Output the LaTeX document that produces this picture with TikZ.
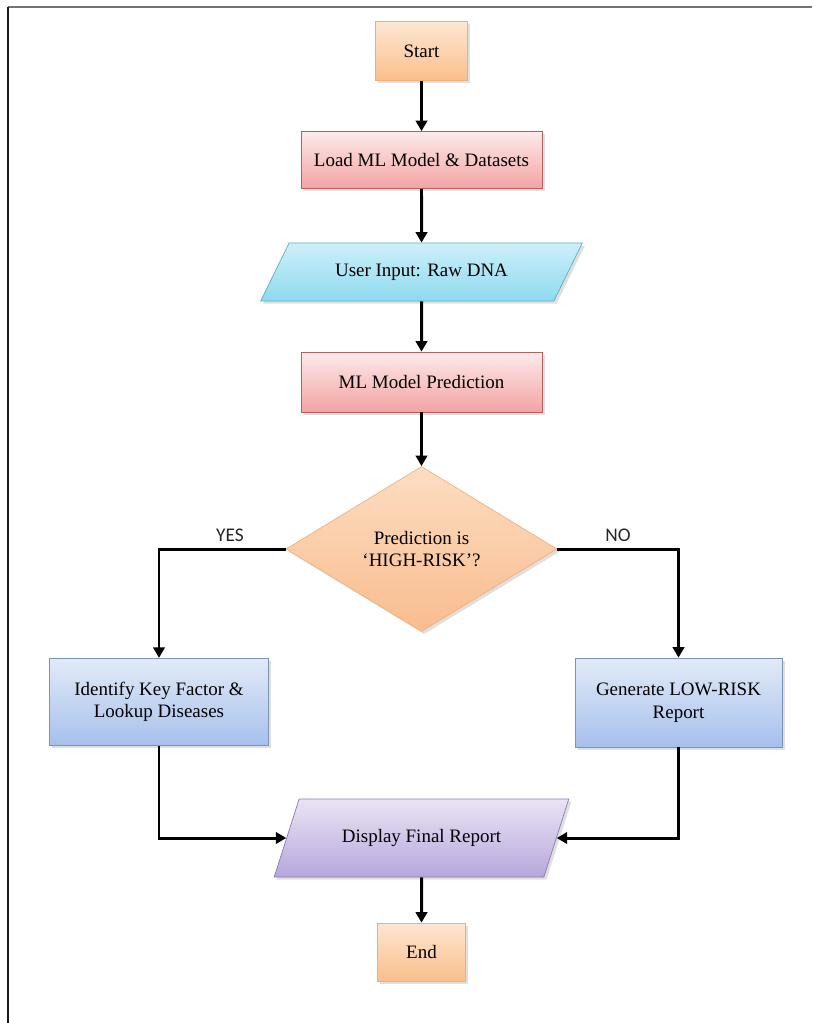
\documentclass[tikz,border=0pt]{standalone}
\usepackage{fontspec}
\setmainfont{Liberation Serif}
\newfontfamily\labelfont{Carlito}
\usetikzlibrary{shapes.geometric,arrows.meta,shadows}

\definecolor{startTop}{HTML}{FDE6D2}
\definecolor{startBot}{HTML}{FABF8C}
\definecolor{startLine}{HTML}{F2AE78}
\definecolor{procTop}{HTML}{FDEAEA}
\definecolor{procBot}{HTML}{F3A3A3}
\definecolor{procLine}{HTML}{B4605C}
\definecolor{inTop}{HTML}{CDF0FA}
\definecolor{inBot}{HTML}{8FD9EF}
\definecolor{inLine}{HTML}{5AAFC8}
\definecolor{decTop}{HTML}{FCDDC2}
\definecolor{decBot}{HTML}{F9BC8E}
\definecolor{decLine}{HTML}{F2B07E}
\definecolor{actTop}{HTML}{E2EAF7}
\definecolor{actBot}{HTML}{A6C0EC}
\definecolor{actLine}{HTML}{7A93B5}
\definecolor{outTop}{HTML}{EAE4F4}
\definecolor{outBot}{HTML}{B7A6DB}
\definecolor{outLine}{HTML}{8D78B4}

\begin{document}
\begin{tikzpicture}[
    font=\fontsize{10.8}{12.8}\selectfont,
    shade/.style  = {drop shadow={opacity=0.25, shadow xshift=1.5pt, shadow yshift=-1.5pt}},
    term/.style   = {draw=startLine, shade, top color=startTop, bottom color=startBot,
                     minimum width=1.85cm, minimum height=1.17cm},
    proc/.style   = {draw=procLine, shade, top color=procTop, bottom color=procBot,
                     minimum width=4.82cm, minimum height=1.14cm},
    action/.style = {draw=actLine, shade, top color=actTop, bottom color=actBot,
                     align=center, minimum height=1.75cm},
    io/.style     = {trapezium, trapezium stretches=true, shade, minimum height=1.16cm},
    decide/.style = {diamond, draw=decLine, shade, top color=decTop, bottom color=decBot,
                     align=center, minimum width=5.42cm, minimum height=3.3cm, inner sep=0pt},
    flow/.style   = {line width=1.7pt, -{Triangle[length=6pt,width=6.5pt]}},
    yesno/.style  = {font=\labelfont\fontsize{11}{12}\selectfont, text=black!85, above},
  ]
    % page frame
    \useasboundingbox (0,0) rectangle (16.24,-20.46);
    \draw[black!55, line width=1pt] (0.16,-0.14) -- (16.24,-0.14);
    \draw[black!90, line width=1pt] (0.16,-0.14) -- (0.16,-20.46);

    \node[term]   (start)   at (8.43,-1.02)  {Start};
    \node[proc]   (load)    at (8.43,-3.20)  {Load ML Model \& Datasets};
    \node[io, draw=inLine, top color=inTop, bottom color=inBot,
          trapezium left angle=55, trapezium right angle=125,
          minimum width=6.44cm]
                  (input)   at (8.43,-5.44)  {User Input: Raw DNA};
    \node[proc, minimum height=1.2cm]
                  (predict) at (8.43,-7.64)  {ML Model Prediction};
    \node[decide] (check)   at (8.43,-10.98) {Prediction is\\`HIGH-RISK'?};
    \node[action, minimum width=4.38cm]
                  (lookup)  at (3.18,-14.04) {Identify Key Factor \&\\Lookup Diseases};
    \node[action, minimum width=4.14cm, minimum height=1.78cm]
                  (lowrisk) at (13.57,-14.05) {Generate LOW-RISK\\Report};
    \node[io, draw=outLine, top color=outTop, bottom color=outBot,
          trapezium left angle=59, trapezium right angle=121,
          minimum width=5.9cm, minimum height=1.56cm]
                  (report)  at (8.43,-16.76) {Display Final Report};
    \node[term, minimum width=1.76cm, minimum height=1.16cm]
                  (finish)  at (8.43,-19.04) {End};

    \draw[flow] (start.south)   -- (load.north);
    \draw[flow] (load.south)    -- (input.north);
    \draw[flow] (input.south)   -- (predict.north);
    \draw[flow] (predict.south) -- (check.north);
    \draw[flow] (check.west) -| node[yesno, pos=0.22] {YES} (lookup.north);
    \draw[flow] (check.east) -| node[yesno, pos=0.25] {NO}  (lowrisk.north);
    \draw[flow] (lookup.south)  |- (report.west);
    \draw[flow] (lowrisk.south) |- (report.east);
    \draw[flow] (report.south)  -- (finish.north);
  \end{tikzpicture}
\end{document}
